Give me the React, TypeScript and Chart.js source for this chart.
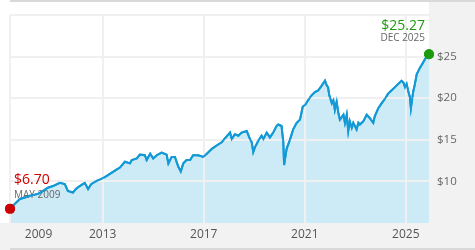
import React, { useEffect, useRef } from 'react';
import { Chart, registerables } from 'chart.js';

Chart.register(...registerables);

// Decimal-year dates and share prices
const dates = [
  2009.33, 2009.52, 2009.72, 2009.92, 2010.12, 2010.44, 2010.64, 2010.83, 2011.03, 2011.3,
  2011.5, 2011.62, 2011.82, 2011.94, 2012.09, 2012.29, 2012.42, 2012.54, 2012.73, 2012.93,
  2013.13, 2013.33, 2013.53, 2013.68, 2013.88, 2014.08, 2014.15, 2014.35, 2014.47, 2014.67,
  2014.74, 2014.88, 2015.0, 2015.14, 2015.33, 2015.53, 2015.6, 2015.73, 2015.86, 2015.99,
  2016.09, 2016.19, 2016.32, 2016.46, 2016.58, 2016.78, 2016.98, 2017.12, 2017.32, 2017.51,
  2017.71, 2017.84, 2018.04, 2018.11, 2018.23, 2018.37, 2018.5, 2018.7, 2018.83, 2018.9,
  2018.96, 2019.03, 2019.16, 2019.29, 2019.36, 2019.49, 2019.62, 2019.75, 2019.88, 2019.95,
  2020.08, 2020.15, 2020.18, 2020.28, 2020.42, 2020.54, 2020.68, 2020.81, 2020.92, 2021.01,
  2021.13, 2021.27, 2021.4, 2021.53, 2021.67, 2021.8, 2021.87, 2021.92, 2021.97, 2022.07,
  2022.13, 2022.19, 2022.26, 2022.33, 2022.39, 2022.53, 2022.59, 2022.66, 2022.72, 2022.78,
  2022.86, 2022.92, 2023.05, 2023.12, 2023.18, 2023.32, 2023.45, 2023.57, 2023.71, 2023.77,
  2023.91, 2024.04, 2024.18, 2024.3, 2024.43, 2024.57, 2024.7, 2024.83, 2024.9, 2024.97,
  2025.03, 2025.09, 2025.16, 2025.2, 2025.29, 2025.36, 2025.43, 2025.56, 2025.68, 2025.75,
  2025.82, 2025.88, 2025.917,
];

const prices = [
  6.7, 7.3, 7.89, 8.07, 8.27, 8.5, 8.86, 9.24, 9.44, 9.82,
  9.67, 8.86, 8.66, 9.09, 9.44, 9.82, 9.09, 9.67, 10.02, 10.26,
  10.61, 10.99, 11.39, 11.66, 12.36, 12.16, 12.56, 12.75, 13.21, 13.14,
  12.56, 13.33, 12.75, 13.14, 13.45, 13.21, 12.16, 12.94, 12.94, 11.78,
  11.19, 12.16, 12.56, 12.56, 13.14, 13.14, 12.94, 13.33, 13.91, 14.31,
  14.7, 15.16, 15.86, 15.08, 15.67, 15.48, 15.86, 16.06, 15.08, 14.7,
  13.53, 14.11, 14.89, 15.48, 15.08, 15.86, 15.28, 15.86, 16.65, 16.83,
  16.65, 14.7, 11.97, 13.91, 15.08, 16.25, 17.03, 17.42, 18.98, 19.17,
  19.75, 20.34, 20.74, 20.92, 21.51, 22.09, 21.51, 21.32, 20.34, 19.37,
  19.75, 18.59, 19.57, 18.2, 17.42, 18.0, 17.03, 18.0, 16.06, 17.23,
  16.45, 17.03, 16.25, 17.03, 16.83, 17.23, 18.0, 17.62, 17.03, 17.82,
  18.79, 19.37, 19.95, 20.54, 20.92, 21.32, 21.71, 22.09, 21.9, 21.32,
  21.71, 20.92, 20.15, 18.79, 20.74, 21.71, 22.87, 23.66, 24.24, 24.63,
  25.01, 25.21, 25.27,
];

const xGridYears = [2013, 2017, 2021, 2025];
const xTickLabels = ['2009', '2013', '2017', '2021', '2025'];
const xLabelPositions = [2010.46, 2013, 2017, 2021, 2025];
const yTickValues = [10, 15, 20, 25];
const startLabel = { price: '$6.70', date: 'MAY 2009' };
const endLabel = { price: '$25.27', date: 'DEC 2025' };

const X_MIN = dates[0];
const X_MAX = dates[dates.length - 1];
const Y_MIN = 5;
const Y_MAX = 30;

const LINE = '#139ad6';
const FILL = '#cdeaf7';
const GRID = '#f0f0f0';
const PANEL = '#f2f2f2';
const BAR = '#d9d9d9';
const RED = '#cc0000';
const GREEN = '#1c9c0c';
const FONT = "'Open Sans', sans-serif";

const overlay = {
  id: 'overlay',
  beforeDraw(chart: any) {
    const { ctx, width, height, chartArea } = chart;
    ctx.save();
    ctx.fillStyle = '#ffffff';
    ctx.fillRect(0, 0, width, height);
    ctx.fillStyle = PANEL;
    ctx.fillRect(chartArea.right, 0, width - chartArea.right, height);
    ctx.fillRect(0, chartArea.bottom, width, height - chartArea.bottom);
    ctx.fillStyle = BAR;
    ctx.fillRect(chartArea.left, 0, width - chartArea.left, 2);
    ctx.fillRect(chartArea.left, height - 2, width - chartArea.left, 2);
    ctx.restore();
  },
  afterDraw(chart: any) {
    const ctx = chart.ctx;
    const meta = chart.getDatasetMeta(0);
    const first = meta.data[0];
    const last = meta.data[meta.data.length - 1];
    ctx.save();
    ctx.textBaseline = 'alphabetic';
    ctx.textAlign = 'left';
    ctx.fillStyle = RED;
    ctx.font = `14px ${FONT}`;
    ctx.fillText(startLabel.price, first.x + 4, first.y - 25);
    ctx.fillStyle = '#666666';
    ctx.font = `10px ${FONT}`;
    ctx.fillText(startLabel.date, first.x + 4, first.y - 11);
    ctx.textAlign = 'right';
    ctx.fillStyle = GREEN;
    ctx.font = `14px ${FONT}`;
    ctx.fillText(endLabel.price, last.x - 4, last.y - 24);
    ctx.fillStyle = '#666666';
    ctx.font = `10px ${FONT}`;
    ctx.fillText(endLabel.date, last.x - 4, last.y - 13);
    ctx.restore();
    // redraw line and end points above the grid
    meta.dataset.draw(ctx, chart.chartArea);
    meta.data.forEach((p: any) => p.draw(ctx, chart.chartArea));
  },
};

export default function App() {
  const ref = useRef<HTMLCanvasElement>(null);
  useEffect(() => {
    if (!ref.current) return;
    const n = dates.length;
    const chart = new Chart(ref.current, {
      type: 'line',
      data: {
        datasets: [
          {
            data: dates.map((d, i) => ({ x: d, y: prices[i] })),
            borderColor: LINE,
            borderWidth: 2,
            backgroundColor: FILL,
            fill: 'start',
            tension: 0,
            clip: false as any,
            pointRadius: (c: any) => (c.dataIndex === 0 || c.dataIndex === n - 1 ? 5 : 0),
            pointBackgroundColor: (c: any) => (c.dataIndex === 0 ? RED : GREEN),
            pointBorderWidth: 0,
          } as any,
        ],
      },
      options: {
        responsive: false,
        animation: false,
        devicePixelRatio: 1,
        layout: { padding: { left: 10, top: 9, right: 0, bottom: 0 } },
        plugins: { legend: { display: false }, tooltip: { enabled: false } },
        scales: {
          x: {
            type: 'linear',
            min: X_MIN,
            max: X_MAX,
            afterBuildTicks: (scale: any) => {
              const vals = [X_MIN, xLabelPositions[0], ...xGridYears];
              scale.ticks = vals.map((v) => ({ value: v }));
            },
            afterFit: (scale: any) => {
              scale.height = 27;
            },
            grid: {
              z: 1,
              lineWidth: 2,
              drawTicks: false,
              color: (c: any) =>
                c.tick && c.tick.value === xLabelPositions[0] ? 'rgba(0,0,0,0)' : GRID,
            },
            border: { display: false },
            ticks: {
              autoSkip: false,
              maxRotation: 0,
              padding: 4,
              color: '#555555',
              font: { family: FONT, size: 12 },
              callback: (v: any, i: number) => (i === 0 ? '' : xTickLabels[i - 1]),
            },
          },
          y: {
            type: 'linear',
            position: 'right',
            min: Y_MIN,
            max: Y_MAX,
            afterFit: (scale: any) => {
              scale.width = 46;
            },
            grid: {
              z: 1,
              lineWidth: 2,
              drawTicks: false,
              color: (c: any) => (c.tick && c.tick.value === Y_MIN ? 'rgba(0,0,0,0)' : GRID),
            },
            border: { display: false },
            ticks: {
              stepSize: 5,
              padding: 8,
              color: '#666666',
              font: { family: FONT, size: 11.5 },
              callback: (v: any) => (yTickValues.includes(v) ? '$' + v : ''),
            },
          },
        },
      } as any,
      plugins: [overlay],
    });
    return () => chart.destroy();
  }, []);
  return (
    <div style={{ position: 'fixed', left: 0, top: 0, width: 475, height: 250 }}>
      <canvas ref={ref} width={475} height={250} />
    </div>
  );
}
